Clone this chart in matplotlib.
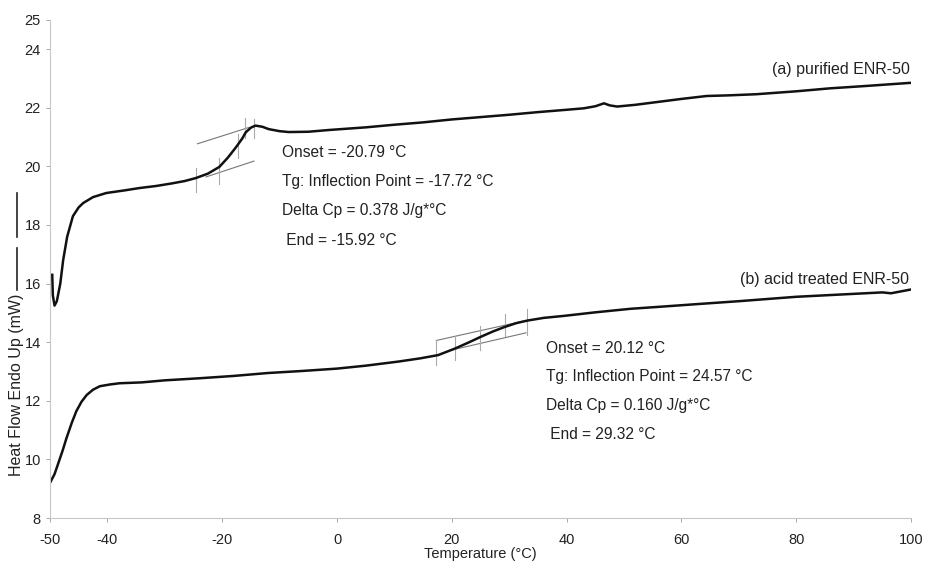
import matplotlib.pyplot as plt
from matplotlib.lines import Line2D

plt.rcParams['font.family'] = ['Liberation Sans', 'DejaVu Sans']
plt.rcParams['axes.unicode_minus'] = False

# DSC trace (a) purified ENR-50
tempA = [-49.6, -49.5, -49.2, -48.8, -48.2, -47.7, -47.0, -46.0, -45.0, -44.2,
         -42.5, -40.2, -37.0, -34.4, -31.5, -28.7, -26.5, -24.6, -22.5, -20.5,
         -19.0, -17.6, -16.5, -15.9, -15.0, -14.2, -13.0, -11.9, -10.0, -8.4,
         -5.0, -1.4, 5, 10, 15, 20, 25, 30, 35, 40, 43, 45, 46.5, 47.5, 48.8,
         52, 56, 60, 64.4, 68, 73, 80, 85.8, 92, 100]
heatA = [16.3, 15.6, 15.25, 15.4, 16.0, 16.8, 17.6, 18.3, 18.6, 18.75,
         18.95, 19.09, 19.18, 19.26, 19.33, 19.42, 19.5, 19.6, 19.75, 19.98,
         20.3, 20.65, 20.95, 21.16, 21.32, 21.39, 21.35, 21.27, 21.2, 21.17,
         21.18, 21.24, 21.33, 21.42, 21.5, 21.6, 21.68, 21.76, 21.85, 21.93, 21.98, 22.05, 22.15, 22.08, 22.04,
         22.1, 22.2, 22.3, 22.4, 22.42, 22.46, 22.56, 22.66, 22.74, 22.85]

# DSC trace (b) acid treated ENR-50
tempB = [-50, -49.2, -48.6, -47.8, -47.1, -46.2, -45.4, -44.5, -43.6, -42.5,
         -41.3, -39.5, -37.9, -34, -30, -24, -18, -12, -6, 0, 5, 10.7, 14.5,
         17.6, 20.5, 22.8, 25.1, 27.2, 29.2, 31.2, 33.2, 36, 39.6, 45, 51.1,
         57, 62.7, 70, 80, 88, 93, 95, 96.5, 100]
heatB = [9.2, 9.5, 9.84, 10.3, 10.74, 11.25, 11.65, 11.97, 12.2, 12.38,
         12.5, 12.56, 12.6, 12.63, 12.7, 12.77, 12.85, 12.95, 13.02, 13.1, 13.2, 13.34, 13.45,
         13.56, 13.78, 13.98, 14.19, 14.37, 14.52, 14.65, 14.74, 14.83, 14.9, 15.02, 15.14,
         15.22, 15.3, 15.4, 15.55, 15.63, 15.68, 15.7, 15.67, 15.8]

# Tg construction lines: tangents (x0, y0, x1, y1)
tangentsA = [(-24.3, 20.77, -15.3, 21.33), (-22.8, 19.64, -14.45, 20.18)]
tangentsB = [(17.3, 14.06, 32.9, 14.74), (19.9, 13.73, 32.9, 14.32)]
# vertical markers (x, ylow, yhigh)
markersA = [(-24.5, 19.12, 19.93), (-20.5, 19.4, 20.3), (-17.3, 20.3, 21.1),
            (-16.0, 20.95, 21.65), (-14.4, 20.95, 21.6)]
markersB = [(17.3, 13.22, 14.06), (20.5, 13.4, 14.2), (24.9, 13.75, 14.55),
            (29.3, 14.2, 14.95), (33.1, 14.23, 15.14)]

yticks = [8, 10, 12, 14, 16, 18, 20, 22, 24, 25]
xticks = [-50, -40, -20, 0, 20, 40, 60, 80, 100]

txtA = ['Onset = -20.79 °C', 'Tg: Inflection Point = -17.72 °C',
        'Delta Cp = 0.378 J/g*°C', ' End = -15.92 °C']
txtB = ['Onset = 20.12 °C', 'Tg: Inflection Point = 24.57 °C',
        'Delta Cp = 0.160 J/g*°C', ' End = 29.32 °C']

fig = plt.figure(figsize=(9.25, 5.65), dpi=100)
ax = fig.add_axes([0.054, 0.083, 0.931, 0.882])

for x0, y0, x1, y1 in tangentsA + tangentsB:
    ax.plot([x0, x1], [y0, y1], color='#777777', lw=0.8)
for x, ylo, yhi in markersA + markersB:
    ax.plot([x, x], [ylo, yhi], color='#aaaaaa', lw=0.8)

ax.plot(tempA, heatA, color='#111111', lw=1.8)
ax.plot(tempB, heatB, color='#111111', lw=1.8)

ax.set_xlim(-50, 100)
ax.set_ylim(8, 25)
ax.set_xticks(xticks)
ax.set_yticks(yticks)
ax.tick_params(colors='#999999', labelcolor='#222222', labelsize=10.5, length=3, width=0.6)
ax.tick_params(axis='x', pad=8)
for s in ['top', 'right']:
    ax.spines[s].set_visible(False)
for s in ['left', 'bottom']:
    ax.spines[s].set_color('#c8c8c8')
    ax.spines[s].set_linewidth(0.8)

ax.set_xlabel('Temperature (°C)', fontsize=10.5, color='#222222', labelpad=0)
ax.set_ylabel('Heat Flow Endo Up (mW)', fontsize=11.5, color='#222222')
ax.yaxis.set_label_coords(-0.030, 0.267)

# stray marks beside the y label in the original
fig.add_artist(Line2D([0.018, 0.018], [1 - 193 / 565, 1 - 237 / 565], color='#222222', lw=1.2))
fig.add_artist(Line2D([0.018, 0.018], [1 - 248 / 565, 1 - 290 / 565], color='#222222', lw=1.2))

ax.text(99.7, 23.3, '(a) purified ENR-50', ha='right', va='center', fontsize=11.5, color='#222222')
ax.text(99.7, 16.15, '(b) acid treated ENR-50', ha='right', va='center', fontsize=11.5, color='#222222')

for i, t in enumerate(txtA):
    ax.text(-9.6, 20.48 - i * 1.0, t, ha='left', va='center', fontsize=11.2, color='#222222')
for i, t in enumerate(txtB):
    ax.text(36.4, 13.8 - i * 0.98, t, ha='left', va='center', fontsize=11.2, color='#222222')

fig.savefig('out.png', dpi=100)
